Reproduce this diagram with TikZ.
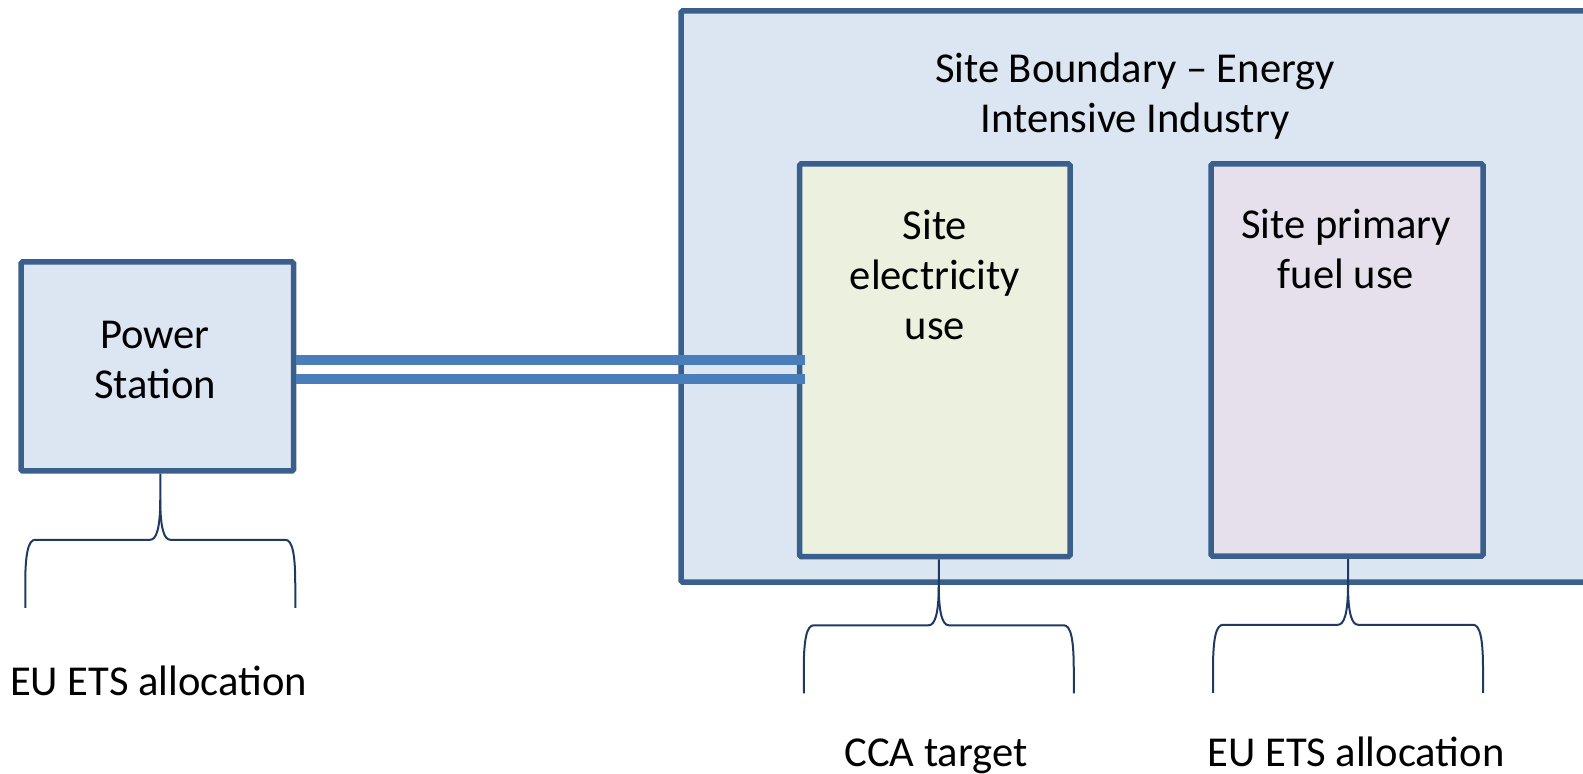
\documentclass[tikz,border=0pt]{standalone}
\usepackage{fontspec}
\setmainfont{Carlito}
\begin{document}
\begin{tikzpicture}[x=0.5pt,y=-0.5pt,
  boxstyle/.style={draw=boxline, line width=2.75pt, inner sep=0pt, rounded corners=0.8pt},
  txt/.style={font=\fontsize{21.3pt}{25pt}\selectfont, text=black, align=center, inner sep=0pt, anchor=base},
  bracestyle/.style={draw=braceline, line width=1pt},
  feedline/.style={draw=feedblue, line width=4.6pt},
  pics/curlybrace/.style={code={
    \draw[bracestyle] (0,0) -- (0,26) .. controls (0,55) and (-4,66) .. (-10,66)
      -- (-125,66) .. controls (-132,66) and (-135,80) .. (-135,110) -- (-135,134);
    \draw[bracestyle] (0,26) .. controls (0,55) and (4,66) .. (10,66)
      -- (125,66) .. controls (132,66) and (135,80) .. (135,110) -- (135,134);
  }}]
\definecolor{boxline}{HTML}{3A5F8C}
\definecolor{braceline}{HTML}{1F3A62}
\definecolor{feedblue}{HTML}{4A7EBB}
\definecolor{sitefill}{HTML}{DCE6F2}
\definecolor{elecfill}{HTML}{EBF1DE}
\definecolor{fuelfill}{HTML}{E5E0EC}

\clip (0,0) rectangle (1583,774);

% boxes
\node[boxstyle, fill=sitefill, minimum width=479.5pt, minimum height=285.5pt] (site) at (1160.5,296.5) {};
\node[boxstyle, fill=sitefill, minimum width=136.25pt, minimum height=104.5pt] (ps) at (157.25,366.5) {};
\node[boxstyle, fill=elecfill, minimum width=135.25pt, minimum height=196.25pt] (elec) at (934.75,360.25) {};
\node[boxstyle, fill=fuelfill, minimum width=136pt, minimum height=196pt] (fuel) at (1347,360) {};

% box texts (base anchor sits near the last line)
\node[txt] (pstext) at (155,399) {Power\\Station};
\node[txt] (sitetext) at (1135,133) {Site Boundary – Energy\\Intensive Industry};
\node[txt] (electext) at (935,340) {Site\\electricity\\use};
\node[txt] (fueltext) at (1346,289) {Site primary\\fuel use};

% supply lines from the power station into the site
\coordinate (feedA) at (0,360);
\coordinate (feedB) at (0,379);
\draw[feedline] (ps.east |- feedA) -- ([xshift=4pt]elec.west |- feedA);
\draw[feedline] (ps.east |- feedB) -- ([xshift=4pt]elec.west |- feedB);

% braces
\pic at ([xshift=1.5pt]ps.south) {curlybrace};
\pic at ([xshift=2pt]elec.south) {curlybrace};
\pic at ([xshift=0.5pt]fuel.south) {curlybrace};

% scheme labels
\node[txt] (lblps) at (158.5,695) {EU ETS allocation};
\node[txt] (lblelec) at (936,766) {CCA target};
\node[txt] (lblfuel) at (1356,766) {EU ETS allocation};
\end{tikzpicture}
\end{document}
